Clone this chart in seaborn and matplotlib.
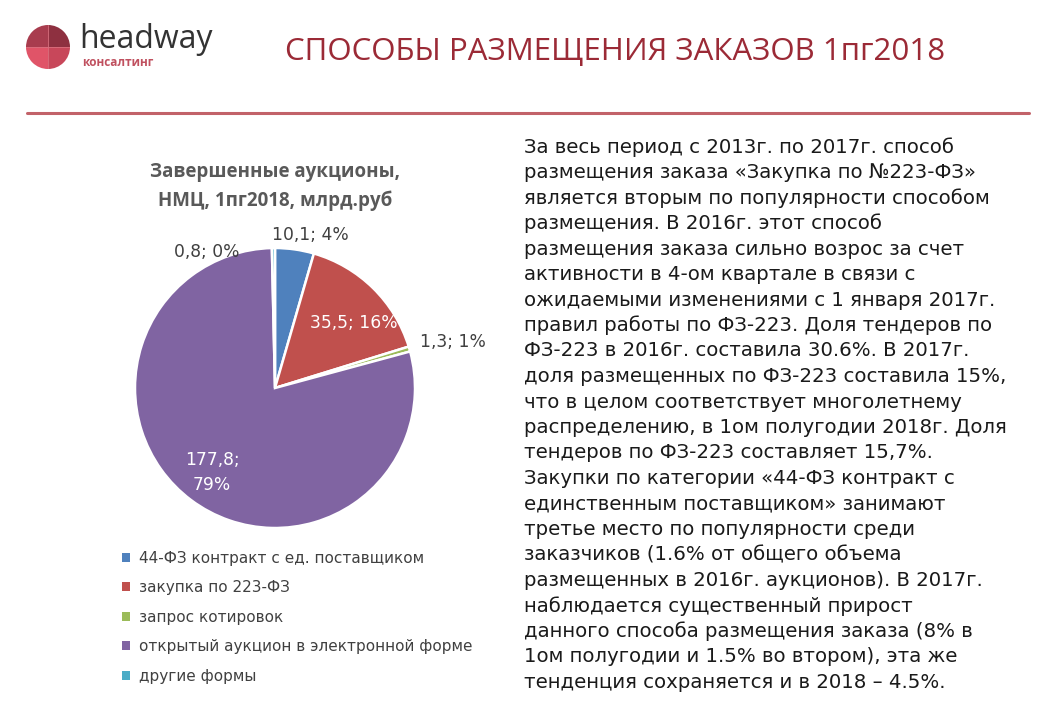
import matplotlib
matplotlib.use("Agg")
import matplotlib.pyplot as plt
import seaborn as sns
from matplotlib.patches import Wedge
import numpy as np

# ---- данные ----
categories = [
    "44-ФЗ контракт с ед. поставщиком",
    "закупка по 223-ФЗ",
    "запрос котировок",
    "открытый аукцион в электронной форме",
    "другие формы",
]
values = [10.1, 35.5, 1.3, 177.8, 0.8]
value_labels = ["10,1; 4%", "35,5; 16%", "1,3; 1%", "177,8;\n79%", "0,8; 0%"]
slice_colors = ["#4F81BD", "#C0504D", "#9BBB59", "#8064A2", "#4BACC6"]

chart_title = "Завершенные аукционы,\nНМЦ, 1пг2018, млрд.руб"
page_title = "СПОСОБЫ РАЗМЕЩЕНИЯ ЗАКАЗОВ 1пг2018"

body_lines = [
    "За весь период с 2013г. по 2017г. способ",
    "размещения заказа «Закупка по №223-ФЗ»",
    "является вторым по популярности способом",
    "размещения. В 2016г. этот способ",
    "размещения заказа сильно возрос за счет",
    "активности в 4-ом квартале в связи с",
    "ожидаемыми изменениями с 1 января 2017г.",
    "правил работы по ФЗ-223. Доля тендеров по",
    "ФЗ-223 в 2016г. составила 30.6%. В 2017г.",
    "доля размещенных по ФЗ-223 составила 15%,",
    "что в целом соответствует многолетнему",
    "распределению, в 1ом полугодии 2018г. Доля",
    "тендеров по ФЗ-223 составляет 15,7%.",
    "Закупки по категории «44-ФЗ контракт с",
    "единственным поставщиком» занимают",
    "третье место по популярности среди",
    "заказчиков (1.6% от общего объема",
    "размещенных в 2016г. аукционов). В 2017г.",
    "наблюдается существенный прирост",
    "данного способа размещения заказа (8% в",
    "1ом полугодии и 1.5% во втором), эта же",
    "тенденция сохраняется и в 2018 – 4.5%.",
]

sns.set_theme(style="white")
plt.rcParams["font.family"] = ["DejaVu Sans"]

W, H = 1039, 702
fig = plt.figure(figsize=(W / 100, H / 100), dpi=100)
fig.patch.set_facecolor("white")


def fx(px):
    return px / W


def fy(py):
    return 1 - py / H


# ---- логотип ----
logo_ax = fig.add_axes([fx(26), fy(69), fx(44), 44 / H])
logo_ax.set_xlim(-1, 1)
logo_ax.set_ylim(-1, 1)
logo_ax.set_aspect("equal")
logo_ax.axis("off")
quad_colors = ["#8E3040", "#A83C4E", "#E05468", "#C8475A"]  # TR, TL, BL, BR
for i, c in enumerate(quad_colors):
    logo_ax.add_patch(Wedge((0, 0), 1, 90 * i, 90 * (i + 1), facecolor=c, edgecolor="none"))
logo_ax.plot([-1, 1], [0, 0], color="#D9707F", lw=0.6)
logo_ax.plot([0, 0], [-1, 1], color="#D9707F", lw=0.6)

fig.text(fx(79), fy(39), "headway", fontsize=23, color="#333333",
         ha="left", va="center", family=["Open Sans", "DejaVu Sans"],
         fontweight="medium")
fig.text(fx(82), fy(63), "консалтинг", fontsize=8.5, color="#C0505F",
         ha="left", va="center", fontweight="bold",
         family=["Open Sans", "DejaVu Sans"])

# ---- заголовок страницы ----
fig.text(fx(615), fy(52), page_title, fontsize=22.5, color="#9B2A36",
         ha="center", va="center", family=["Open Sans", "DejaVu Sans"])

# линия под заголовком
fig.add_artist(plt.Line2D([fx(27), fx(1029)], [fy(112.5), fy(112.5)],
                          color="#B8474F", lw=2.2, alpha=0.85))

# ---- круговая диаграмма ----
cx, cy, r = 275, 388, 140
ax = fig.add_axes([fx(cx - r), fy(cy + r), 2 * r / W, 2 * r / H])
palette = sns.color_palette(slice_colors)
wedges, _ = ax.pie(values, colors=palette, startangle=90, counterclock=False,
                   wedgeprops={"edgecolor": "white", "linewidth": 1.8})
ax.set_xlim(-1, 1)
ax.set_ylim(-1, 1)
ax.set_aspect("equal")

# размещение подписей: (радиус, сдвиг угла)
label_pos = [(1.12, -5), (0.73, -6), (1.31, -1.6), (0.75, 0), (1.09, 26)]
label_col = ["#404040", "white", "#404040", "white", "#404040"]
for w, txt, (dist, dang), col in zip(wedges, value_labels, label_pos, label_col):
    ang = np.deg2rad((w.theta1 + w.theta2) / 2 + dang)
    ax.text(dist * np.cos(ang), dist * np.sin(ang), txt, ha="center", va="center",
            fontsize=12.3, color=col, linespacing=1.5)

ax.set_title(chart_title, fontsize=13.5, fontweight="bold", color="#595959",
             pad=30, linespacing=1.55, family=["Open Sans", "DejaVu Sans"])

leg = fig.legend(wedges, categories, loc="upper left",
                 bbox_to_anchor=(fx(108), fy(537)), frameon=False,
                 fontsize=11, handlelength=0.55, handleheight=0.55,
                 handletextpad=0.6, labelspacing=0.95, labelcolor="#404040")
for h in leg.legend_handles:
    h.set_edgecolor("none")

# ---- текст справа ----
y0, step = 147, 25.5
for i, line in enumerate(body_lines):
    fig.text(fx(524), fy(y0 + i * step), line, fontsize=14.2, color="#1a1a1a",
             ha="left", va="center")

fig.savefig("out.png", dpi=100, facecolor="white")
